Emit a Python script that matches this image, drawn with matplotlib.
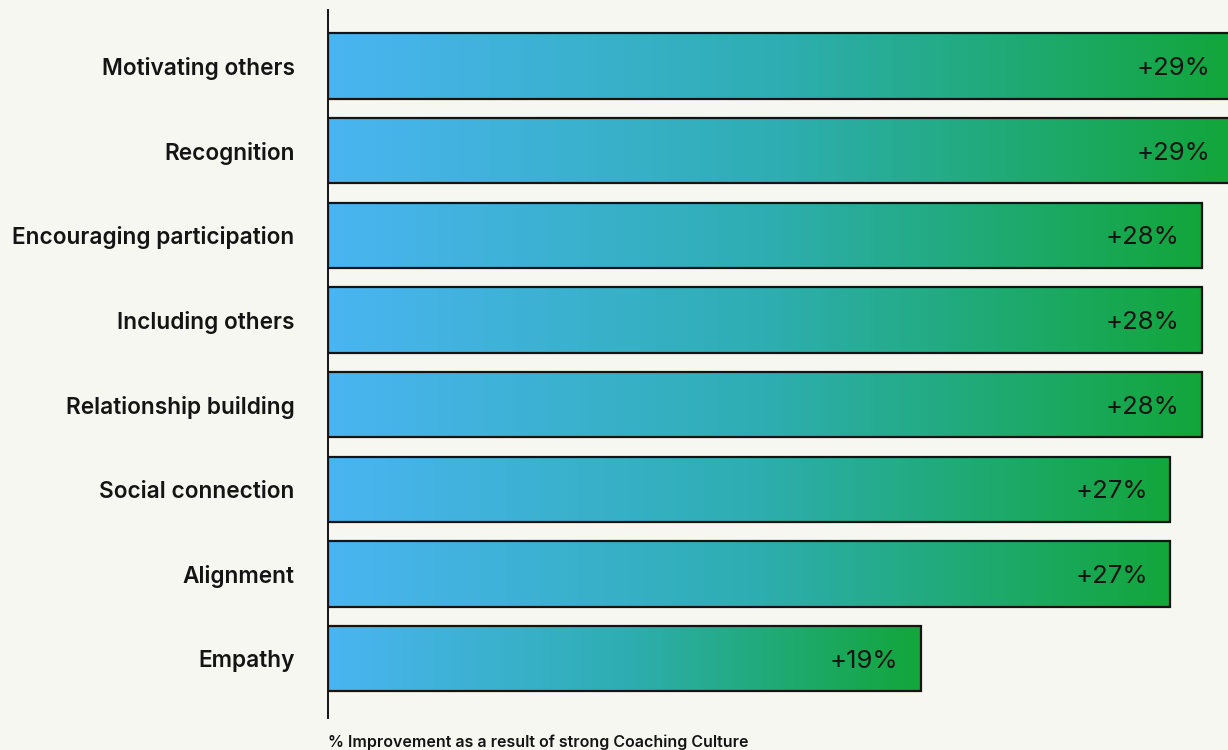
import matplotlib.pyplot as plt
import numpy as np
from matplotlib.colors import LinearSegmentedColormap
from matplotlib.patches import Rectangle

categories = ["Motivating others", "Recognition", "Encouraging participation",
              "Including others", "Relationship building", "Social connection",
              "Alignment", "Empathy"]
values = [29, 29, 28, 28, 28, 27, 27, 19]
value_labels = ["+29%", "+29%", "+28%", "+28%", "+28%", "+27%", "+27%", "+19%"]
xlabel = "% Improvement as a result of strong Coaching Culture"

bg = "#f7f7f2"
ink = "#141414"
grad = LinearSegmentedColormap.from_list("bluegreen", ["#4ab5f2", "#2eaeb2", "#12a63a"], N=1024)

plt.rcParams['font.family'] = ['Inter', 'DejaVu Sans']

fig = plt.figure(figsize=(12.28, 7.5), dpi=100, facecolor=bg)
ax = fig.add_axes([328 / 1228, 32 / 750, 900 / 1228, 708 / 750])
ax.set_facecolor(bg)

bar_h = 0.77
ramp = np.linspace(0, 1, 1024).reshape(1, -1)
for i, v in enumerate(values):
    y0, y1 = i - bar_h / 2, i + bar_h / 2
    im = ax.imshow(ramp, cmap=grad, aspect="auto", extent=[0, v, y1, y0],
                   interpolation="bilinear", zorder=1)
    rect = Rectangle((0, y0), v, bar_h, facecolor="none", edgecolor=ink,
                     linewidth=1.6, zorder=2)
    ax.add_patch(rect)
    im.set_clip_path(rect)
    # value label sits just inside the right end of the bar
    ax.annotate(value_labels[i], xy=(v, i), xytext=(-16, 0), textcoords="offset points",
                ha="right", va="center_baseline", fontsize=18.5, color=ink, zorder=3,
                annotation_clip=False)

ax.set_xlim(0, 900 / 31.2)
ax.set_ylim(7.7, -0.66)
ax.set_yticks(range(len(categories)))
ax.set_yticklabels(categories, fontsize=16.3, fontweight="semibold", color=ink)
ax.tick_params(axis="y", length=0, pad=24)
ax.set_xticks([])
for side in ["top", "right", "bottom"]:
    ax.spines[side].set_visible(False)
ax.spines["left"].set_color(ink)
ax.spines["left"].set_linewidth(1.4)

fig.text(328 / 1228, 8 / 750, xlabel, ha="left", va="center", fontsize=11.5,
         fontweight="semibold", color=ink)

fig.savefig("out.png", dpi=100, facecolor=bg)
